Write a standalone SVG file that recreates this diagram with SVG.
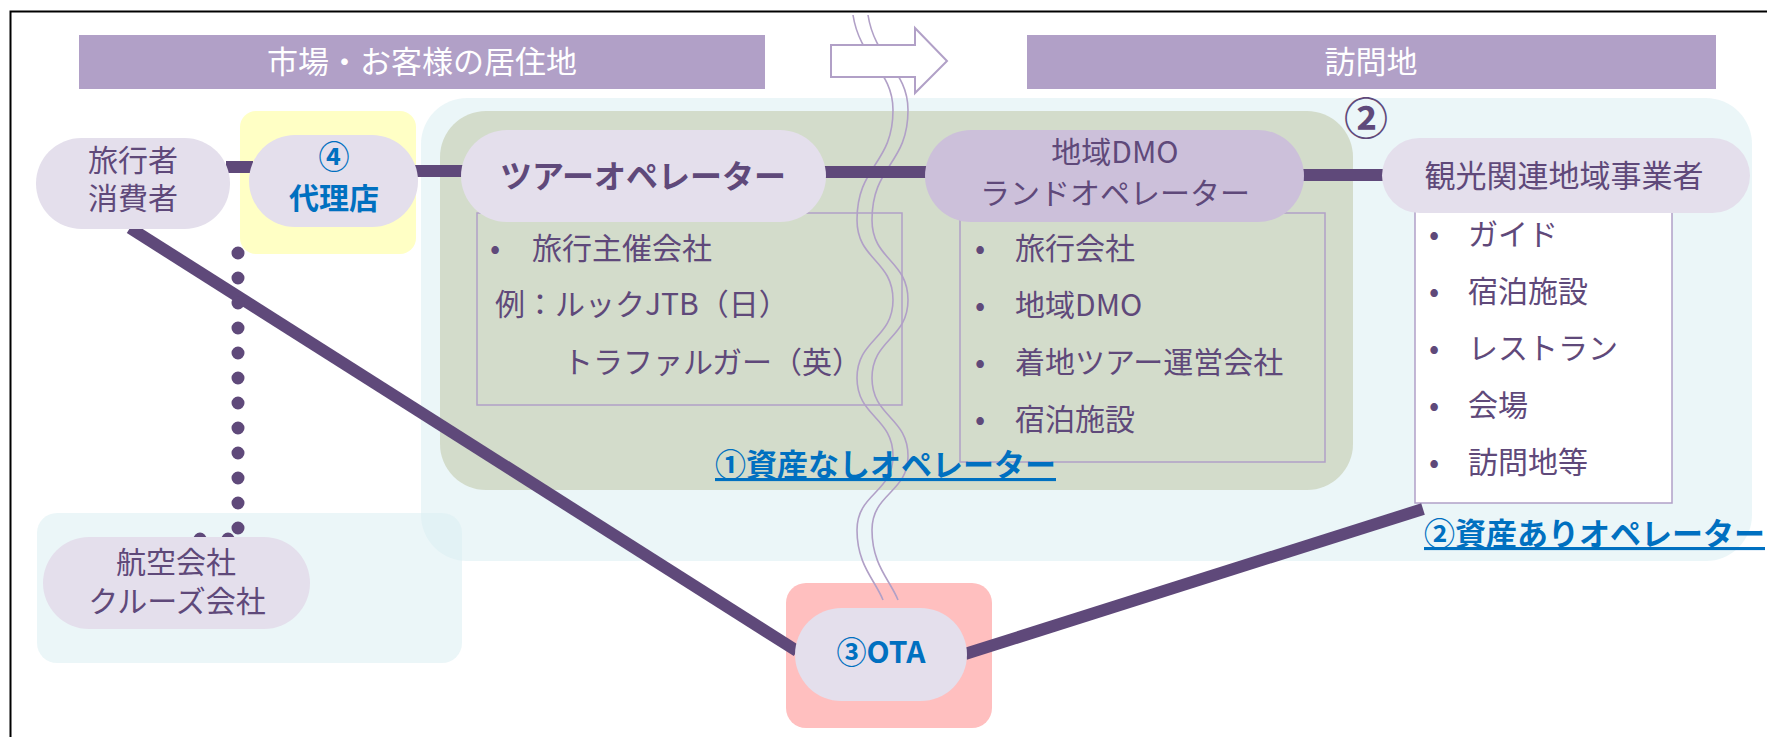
<svg xmlns="http://www.w3.org/2000/svg" width="1767" height="737" viewBox="0 0 1767 737">
<defs>
<style>
text{font-family:"Noto Sans CJK JP","Noto Sans",sans-serif;}
.hdr{fill:#B1A0C7}
.hdrt{fill:#ffffff;font-size:31px;text-anchor:middle}
.pill{fill:#E4DFEC}
.pill2{fill:#CCC0DA}
.nt{fill:#5F497A;font-size:30px;text-anchor:middle}
.blue{fill:#0070C0;font-weight:bold}
.lt{fill:#5F497A;font-size:30px}
.lbox{fill:none;stroke:#B1A0C7;stroke-width:1.5}
.conn{stroke:#5F497A;stroke-width:12;fill:none}
.dots{stroke:#5F497A;stroke-width:13;stroke-linecap:round;fill:none}
.wave{fill:none;stroke:#B1A0C7;stroke-width:1.6}
.ltblue{fill:#DAEEF3;fill-opacity:0.55}
</style>
</defs>
<rect x="0" y="0" width="1767" height="737" fill="#ffffff"/>
<path d="M10.5,737 V11.5 H1767" fill="none" stroke="#000000" stroke-width="2"/>

<g id="header-market">
<rect class="hdr" x="79" y="35" width="686" height="54"/>
<text class="hdrt" x="422" y="73">市場・お客様の居住地</text>
</g>
<g id="header-visit">
<rect class="hdr" x="1027" y="35" width="689" height="54"/>
<text class="hdrt" x="1371" y="73">訪問地</text>
</g>

<g id="regions">
<rect class="ltblue" x="421" y="98" width="1331" height="463" rx="46"/>
<rect class="ltblue" x="37" y="513" width="425" height="150" rx="20"/>
<rect x="440" y="111" width="913" height="379" rx="46" fill="#D3DCCB"/>
<rect x="240" y="111" width="176" height="143" rx="16" fill="#FFFFC5"/>
<rect x="786" y="583" width="206" height="145" rx="20" fill="#FFBFBF"/>
</g>

<g id="list-boxes">
<rect class="lbox" x="477" y="213" width="425" height="192"/>
<rect class="lbox" x="960" y="213" width="365" height="249"/>
<rect class="lbox" x="1415" y="205" width="257" height="298" style="fill:#ffffff"/>
</g>

<g id="wave">
<path class="wave" d="M853,15 C860,60 893,70 893,110 C893,165 857,165 857,220 C857,260 893,260 893,300 C893,339 857,339 857,378 C857,417 893,417 893,456 C893,493 857,493 857,530 C857,565 875,580 883,600"/>
<path class="wave" d="M868,15 C875,60 908,70 908,110 C908,165 872,165 872,220 C872,260 908,260 908,300 C908,339 872,339 872,378 C872,417 908,417 908,456 C908,493 872,493 872,530 C872,565 890,580 898,600"/>
</g>

<g id="arrow">
<polygon points="831,45 915,45 915,28 947,61 915,93 915,77 831,77" fill="#ffffff" stroke="#B1A0C7" stroke-width="2"/>
</g>

<g id="connectors">
<line class="conn" x1="226" y1="167" x2="253" y2="167"/>
<line class="conn" x1="414" y1="171" x2="465" y2="171"/>
<line class="conn" x1="822" y1="172" x2="929" y2="172"/>
<line class="conn" x1="1300" y1="175" x2="1386" y2="175" stroke-width="13"/>
<line class="conn" x1="130" y1="228" x2="797" y2="651"/>
<line class="conn" x1="965" y1="654" x2="1423" y2="509"/>
<path class="dots" stroke-dasharray="0 25" d="M238,253 V530"/>
<path class="dots" stroke-dasharray="0 28" d="M228,539 H198"/>
</g>

<g id="node-traveler">
<rect class="pill" x="36" y="138" width="194" height="91" rx="45.5"/>
<text class="nt" x="133" y="171">旅行者</text>
<text class="nt" x="133" y="209">消費者</text>
</g>

<g id="node-agent">
<rect class="pill" x="249" y="135" width="169" height="92" rx="46"/>
<text class="nt blue" x="334" y="168" style="font-size:31px">④</text>
<text class="nt blue" x="334" y="209">代理店</text>
</g>

<g id="node-tour-operator">
<rect class="pill" x="461" y="130" width="365" height="92" rx="46"/>
<text class="nt" x="643" y="188" style="font-weight:bold;font-size:32px">ツアーオペレーター</text>
</g>

<g id="node-dmo">
<rect class="pill2" x="925" y="130" width="379" height="92" rx="46"/>
<text class="nt" x="1115" y="163">地域DMO</text>
<text class="nt" x="1115" y="204">ランドオペレーター</text>
</g>

<g id="node-local">
<rect class="pill" x="1382" y="138" width="368" height="75" rx="37.5"/>
<text class="nt" x="1564" y="187" style="font-size:31px">観光関連地域事業者</text>
<text x="1366" y="135" style="fill:#5F497A;font-size:44px;font-weight:bold;text-anchor:middle">②</text>
</g>

<g id="list-tour">
<text class="lt" x="490" y="259">•</text>
<text class="lt" x="532" y="259">旅行主催会社</text>
<text class="lt" x="495" y="315">例：ルックJTB（日）</text>
<text class="lt" x="563" y="373">トラファルガー（英）</text>
</g>

<g id="list-dmo">
<text class="lt" x="975" y="259">•</text>
<text class="lt" x="1015" y="259">旅行会社</text>
<text class="lt" x="975" y="316">•</text>
<text class="lt" x="1015" y="316">地域DMO</text>
<text class="lt" x="975" y="373">•</text>
<text class="lt" x="1015" y="373">着地ツアー運営会社</text>
<text class="lt" x="975" y="430">•</text>
<text class="lt" x="1015" y="430">宿泊施設</text>
</g>

<g id="list-local">
<text class="lt" x="1429" y="245">•</text>
<text class="lt" x="1468" y="245">ガイド</text>
<text class="lt" x="1429" y="302">•</text>
<text class="lt" x="1468" y="302">宿泊施設</text>
<text class="lt" x="1429" y="359">•</text>
<text class="lt" x="1468" y="359">レストラン</text>
<text class="lt" x="1429" y="416">•</text>
<text class="lt" x="1468" y="416">会場</text>
<text class="lt" x="1429" y="473">•</text>
<text class="lt" x="1468" y="473">訪問地等</text>
</g>

<g id="node-airline">
<rect class="pill" x="43" y="537" width="267" height="92" rx="46"/>
<text class="nt" x="176" y="573">航空会社</text>
<text class="nt" x="177" y="612">クルーズ会社</text>
</g>

<g id="node-ota">
<rect class="pill" x="795" y="608" width="172" height="93" rx="46.5"/>
<text class="nt blue" x="881" y="663">③OTA</text>
</g>

<g id="labels">
<text class="blue" x="715" y="476" style="font-size:31px;text-decoration:underline">①資産なしオペレーター</text>
<text class="blue" x="1424" y="545" style="font-size:31px;text-decoration:underline">②資産ありオペレーター</text>
</g>
</svg>
